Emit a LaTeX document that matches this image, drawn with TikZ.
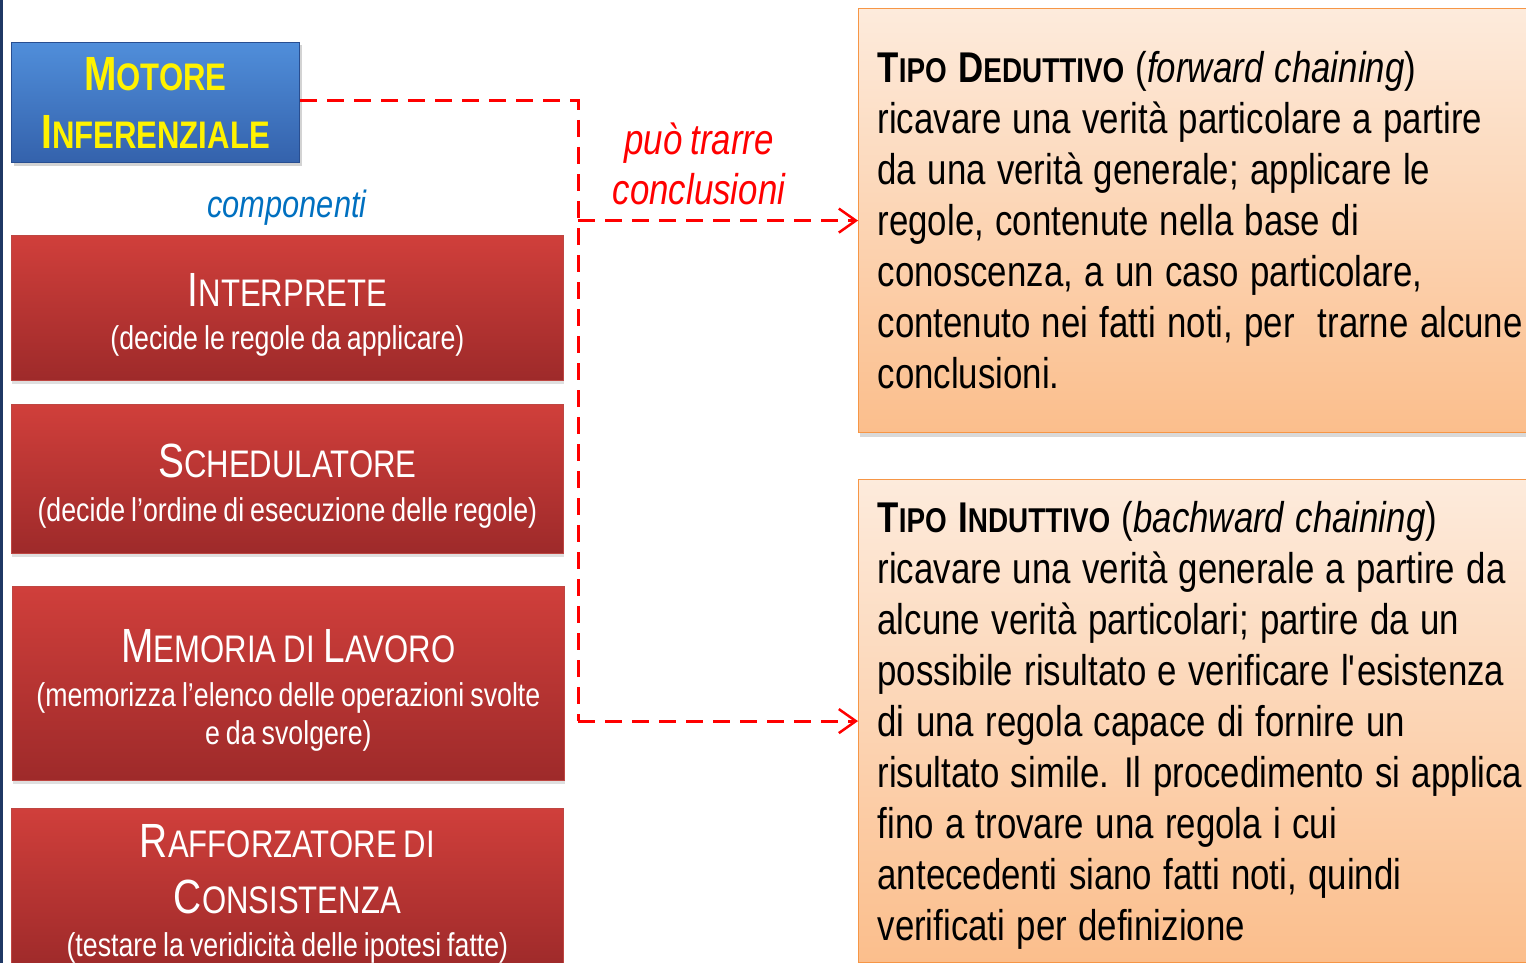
\documentclass[tikz,border=0pt]{standalone}
\usepackage{fontspec}
\setmainfont[FakeStretch=0.81, WordSpace=0.81]{Liberation Sans}
\usetikzlibrary{arrows.meta,shadows}

\definecolor{leftbar}{RGB}{31,56,100}
\definecolor{motoretop}{RGB}{80,142,218}
\definecolor{motorebot}{RGB}{52,98,172}
\definecolor{motoreedge}{RGB}{40,78,145}
\definecolor{redtop}{RGB}{208,63,59}
\definecolor{redbot}{RGB}{158,42,42}
\definecolor{rededge}{RGB}{190,70,66}
\definecolor{peachtop}{RGB}{253,235,220}
\definecolor{peachbot}{RGB}{251,190,140}
\definecolor{peachedge}{RGB}{246,150,70}
\definecolor{compblue}{RGB}{0,112,192}
\definecolor{linkred}{RGB}{255,0,0}

% fake small caps: upper case letters at 80%
\makeatletter
\newcommand\sk[1]{{\@tempdima=\f@size pt\@tempdima=0.8\@tempdima\fontsize{\strip@pt\@tempdima}{\f@baselineskip}\selectfont#1}}
\makeatother
\newcommand\titlefont{\fontsize{48}{56}\selectfont}
\newcommand\uplift[1]{\rule{0pt}{#1}}
\newcommand\fontspaces{\spaceskip=0.265em\relax\xspaceskip=0pt\relax}
\newcommand\plainquote{\XeTeXglyph\XeTeXcharglyph"27\relax}

\tikzset{
  motorebox/.style={draw=motoreedge, line width=1pt, top color=motoretop, bottom color=motorebot,
    text=yellow, font=\fontsize{48}{58}\selectfont\bfseries, align=center,
    minimum width=288, minimum height=120, anchor=north west, inner sep=0pt,
    drop shadow={shadow xshift=2pt, shadow yshift=-3pt, opacity=.35}},
  partbox/.style={draw=rededge, line width=.8pt, top color=redtop, bottom color=redbot,
    text=white, font=\fontsize{33}{38}\selectfont, align=center,
    minimum width=552, anchor=north west, inner sep=0pt,
    drop shadow={shadow xshift=1pt, shadow yshift=-4pt, opacity=.25}},
  tipobox/.style={draw=peachedge, line width=1.2pt, top color=peachtop, bottom color=peachbot,
    text=black, font=\fontsize{43}{51}\selectfont, align=left,
    text width=662, inner xsep=19, inner ysep=0pt, minimum width=700, anchor=north west,
    drop shadow={shadow xshift=1pt, shadow yshift=-4pt, opacity=.3}},
  link/.style={linkred, line width=3pt, dash pattern=on 17pt off 10pt},
  tip/.style={-{Straight Barb[length=17pt, width=24pt, line width=2.5pt]}}
}

\begin{document}
\begin{tikzpicture}[x=1pt, y=-1pt]
\useasboundingbox (0,0) rectangle (1526,963);
\fill[leftbar] (0,0) rectangle (3,963);

\node[motorebox] (motore) at (11,42) {M\sk{OTORE}\\I\sk{NFERENZIALE}};
\node[text=compblue, font=\fontsize{38}{44}\selectfont\itshape] (componenti) at (287,208) {componenti};

%components of the engine
\node[partbox, minimum height=145] (interprete) at (11,235)
  {{\titlefont\uplift{48pt}I\sk{NTERPRETE}}\\[5pt](decide le regole da applicare)};
\node[partbox, minimum height=149] (schedulatore) at (11,404)
  {{\titlefont\uplift{48pt}S\sk{CHEDULATORE}}\\[6pt](decide l’ordine di esecuzione delle regole)};
\node[partbox, minimum height=194] (memoria) at (12,586)
  {{\titlefont\uplift{48pt}M\sk{EMORIA DI} L\sk{AVORO}}\\[6pt](memorizza l’elenco delle operazioni svolte\\e da svolgere)};
\node[partbox, minimum height=160] (rafforzatore) at (11,808)
  {{\titlefont\uplift{44pt}R\sk{AFFORZATORE DI}}\\[18pt]{\titlefont C\sk{ONSISTENZA}}\\[5pt](testare la veridicità delle ipotesi fatte)};

%the two kinds of reasoning
\node[tipobox, minimum height=424] (deduttivo) at (858,8)
  {\fontspaces{\bfseries T\sk{IPO} D\sk{EDUTTIVO}} (\textit{forward chaining})\\
   ricavare una verità particolare a partire\\
   da una verità generale; applicare le\\
   regole, contenute nella base di\\
   conoscenza, a un caso particolare,\\
   contenuto nei fatti noti, per\ \ trarne alcune\\
   conclusioni.};
\node[tipobox, minimum height=483] (induttivo) at (858,479)
  {\fontspaces\uplift{40pt}{\bfseries T\sk{IPO} I\sk{NDUTTIVO}} (\textit{bachward chaining})\\
   ricavare una verità generale a partire da\\
   alcune verità particolari; partire da un\\
   possibile risultato e verificare l\plainquote esistenza\\
   di una regola capace di fornire un\\
   risultato simile. Il procedimento si applica\\
   fino a trovare una regola i cui\\
   antecedenti siano fatti noti, quindi\\
   verificati per definizione};

%dashed links
\coordinate (bus) at (578,101);
\draw[link] (motore.east |- bus) -- (bus) -- (bus |- induttivo.west);
\draw[link, tip] (bus |- deduttivo.west) -- (deduttivo.west);
\draw[link, tip] (bus |- induttivo.west) -- (induttivo.west);
\node[text=linkred, font=\fontsize{43}{50}\selectfont\itshape, align=center] (trarre) at (699,164)
  {può trarre\\conclusioni};
\end{tikzpicture}
\end{document}
